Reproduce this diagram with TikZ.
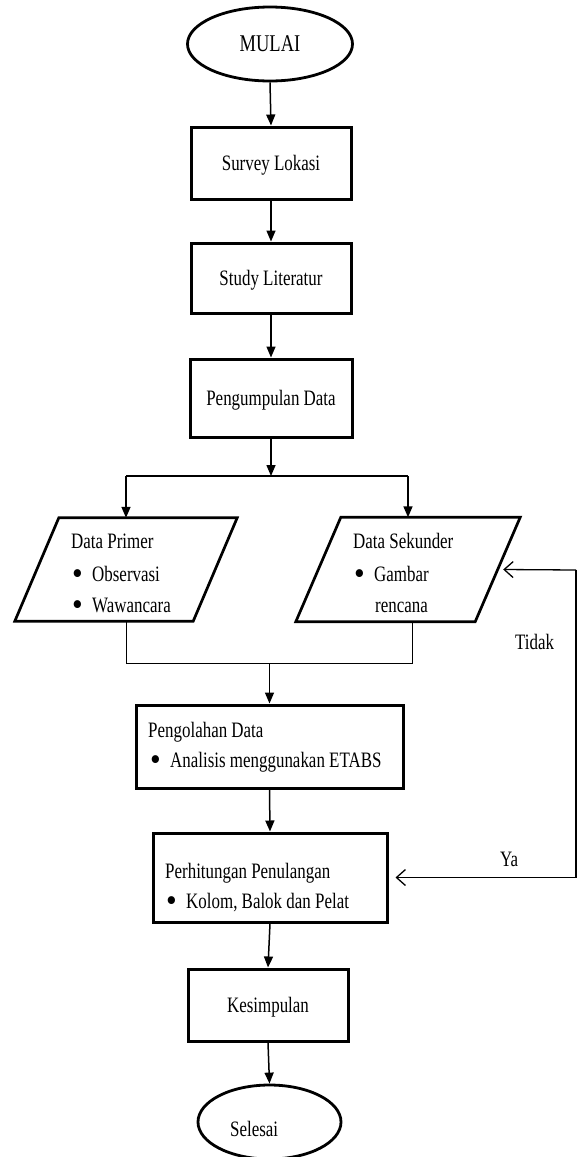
\documentclass[tikz,border=0pt]{standalone}
\usepackage{fontspec}
\setmainfont{Liberation Serif}[FakeStretch=0.77]
\usetikzlibrary{shapes.geometric,arrows.meta}
\newcommand{\fbul}[1]{\makebox[20pt][l]{\raisebox{-3.5pt}{\scalebox{1.8}[1.5]{•}}}#1}
\begin{document}
\begin{tikzpicture}[x=1pt,y=-1pt,
  font=\fontsize{22pt}{26pt}\selectfont,
  box/.style={draw, rectangle, line width=3pt, inner sep=0pt, text height=14.6pt, text depth=0pt},
  term/.style={draw, ellipse, line width=2.8pt, inner sep=0pt, text height=15.8pt, text depth=0pt},
  io/.style={inner sep=0pt},
  para/.style={line width=2.7pt, line join=miter},
  txt/.style={inner sep=0pt, anchor=base west},
  arr/.style={line width=1.5pt, -{Triangle[length=11pt,width=9pt]}},
  thinline/.style={line width=1pt},
  back/.style={line width=1.3pt, -{Straight Barb[length=9pt,width=16pt]}}]
\useasboundingbox (0,0) rectangle (577,1157);

% terminals and process boxes
\node[term, minimum width=165pt, minimum height=74pt, font=\fontsize{24pt}{28pt}\selectfont] (mulai) at (270,44) {MULAI};
\node[box, minimum width=160pt, minimum height=72pt] (survey) at (271,163) {Survey Lokasi};
\node[box, minimum width=160pt, minimum height=70pt] (study) at (271,278) {Study Literatur};
\node[box, minimum width=162pt, minimum height=78pt] (kumpul) at (271,398) {Pengumpulan Data};

% data parallelograms
\node[io, minimum width=178pt, minimum height=103pt] (primer) at (126,569.5) {};
\draw[para] ([xshift=22pt]primer.north west) -- ([xshift=22pt]primer.north east)
  -- ([xshift=-22pt]primer.south east) -- ([xshift=-22pt]primer.south west) -- cycle;
\node[txt] (primerT) at (71,548) {Data Primer};
\node[txt] (primerA) at (72,581) {\fbul{Observasi}};
\node[txt] (primerB) at (72,612) {\fbul{Wawancara}};

\node[io, minimum width=179pt, minimum height=104pt] (sekunder) at (408,569.5) {};
\draw[para] ([xshift=22.5pt]sekunder.north west) -- ([xshift=22.5pt]sekunder.north east)
  -- ([xshift=-22.5pt]sekunder.south east) -- ([xshift=-22.5pt]sekunder.south west) -- cycle;
\node[txt] (sekT) at (353,548) {Data Sekunder};
\node[txt] (sekA) at (354,581) {\fbul{Gambar}};
\node[txt] (sekB) at (375,612) {rencana};

% processing boxes
\node[box, minimum width=267pt, minimum height=83pt] (olah) at (269.5,746.5) {};
\node[txt] (olahT) at (148,737) {Pengolahan Data};
\node[txt] (olahA) at (150,767) {\fbul{Analisis menggunakan ETABS}};

\node[box, minimum width=234pt, minimum height=89pt] (hitung) at (270,877.5) {};
\node[txt] (hitungT) at (165,878) {Perhitungan Penulangan};
\node[txt] (hitungA) at (166,908) {\fbul{Kolom, Balok dan Pelat}};

\node[box, minimum width=160pt, minimum height=72pt] (simpul) at (268,1005) {Kesimpulan};
\node[term, minimum width=143pt, minimum height=74pt] (selesai) at (269.5,1122) {};
\node[txt] (selesaiT) at (230,1136) {Selesai};

% main flow
\draw[arr] (mulai.south) -- (survey.north);
\draw[arr] (survey.south) -- (study.north);
\draw[arr] (study.south) -- (kumpul.north);
\coordinate (split) at (271,476);
\draw[arr] (kumpul.south) -- (split);
\draw[line width=1.5pt] (primer.north |- split) -- (sekunder.north |- split);
\draw[arr] (primer.north |- split) -- (primer.north);
\draw[arr] (sekunder.north |- split) -- (sekunder.north);

\coordinate (merge) at (269.5,663);
\coordinate (sekDrop) at ([xshift=4pt]sekunder.south);
\draw[thinline] (primer.south) -- (primer.south |- merge) -- (sekDrop |- merge) -- (sekDrop);
\draw[arr] (merge) -- (olah.north);
\draw[arr] (olah.south) -- (hitung.north);
\draw[arr] (hitung.south) -- (simpul.north);
\draw[arr] (simpul.south) -- (selesai.north);

% feedback
\coordinate (cTop) at (576,570);
\coordinate (cBot) at (576,877.5);
\draw[back] (cTop) -- ([xshift=5.5pt]sekunder.east);
\draw[back] (cTop) -- (cBot) -- ([xshift=7pt]hitung.east);
\node[txt] (tidak) at (515,649) {Tidak};
\node[txt] (ya) at (500,866) {Ya};
\end{tikzpicture}
\end{document}
